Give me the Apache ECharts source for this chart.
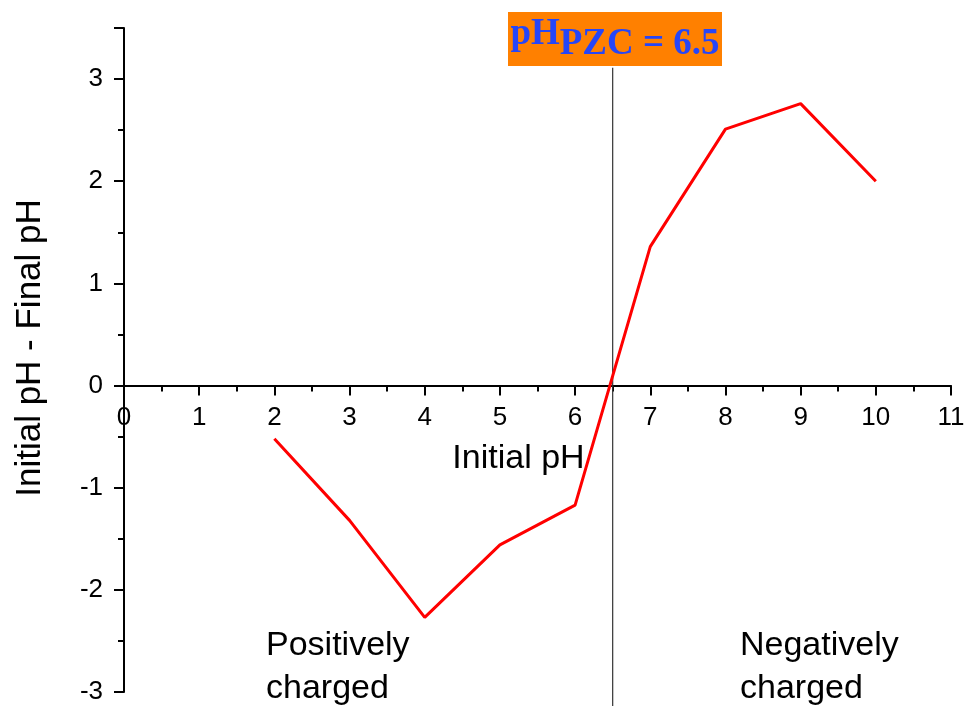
<!DOCTYPE html>
<html>
<head>
<meta charset="utf-8">
<script src="https://cdn.jsdelivr.net/npm/echarts@6/dist/echarts.min.js"></script>
<style>
  html, body { margin: 0; padding: 0; background: #fff; }
  #chart { width: 965px; height: 706px; }
</style>
</head>
<body>
<div id="chart"></div>
<script>
// Point of zero charge measurement: ΔpH (initial - final) against initial pH
const initialPH = [2, 3, 4, 5, 6, 7, 8, 9, 10];
const deltaPH = [-0.52, -1.32, -2.27, -1.56, -1.17, 1.36, 2.51, 2.76, 2.0];
const pzcValue = 6.5;
const pzcLineSpan = [3.11, -3.14];
const xTicks = [0, 11, 1];
const yTicks = [-3, 3.5, 1];

const GRID = { left: 124, right: 14, top: 28, bottom: 14 };
const chartHeight = 706;

const chart = echarts.init(document.getElementById('chart'));
const axisFont = { fontFamily: 'Liberation Sans, Arial, sans-serif', color: '#000' };

// The x axis sits on y = 0; move it up from the grid bottom by the pixel
// distance between y = min and y = 0 on the value scale.
const plotH = chartHeight - GRID.top - GRID.bottom;
const zeroOffset = -plotH * (0 - yTicks[0]) / (yTicks[1] - yTicks[0]);

chart.setOption({
  animation: false,
  backgroundColor: '#fff',
  grid: { ...GRID, containLabel: false, outerBoundsMode: 'none' },
  xAxis: {
    type: 'value',
    position: 'bottom',
    offset: zeroOffset,
    min: xTicks[0], max: xTicks[1], interval: xTicks[2],
    axisLine: { onZero: false, lineStyle: { color: '#000', width: 2 } },
    axisTick: { show: true, length: 10, lineStyle: { color: '#000', width: 2 } },
    minorTick: { show: true, splitNumber: 2, length: 6, lineStyle: { color: '#000', width: 2 } },
    axisLabel: { ...axisFont, fontSize: 26, margin: 19 },
    splitLine: { show: false },
    name: 'Initial pH',
    nameLocation: 'middle',
    nameGap: 56,
    nameTextStyle: { ...axisFont, fontSize: 34, padding: [0, 38, 0, 0] }
  },
  yAxis: {
    type: 'value',
    min: yTicks[0], max: yTicks[1], interval: yTicks[2],
    axisLine: { onZero: false, lineStyle: { color: '#000', width: 2 } },
    axisTick: { show: true, length: 10, lineStyle: { color: '#000', width: 2 } },
    minorTick: { show: true, splitNumber: 2, length: 6, lineStyle: { color: '#000', width: 2 } },
    axisLabel: { ...axisFont, fontSize: 26, margin: 21, showMaxLabel: false },
    splitLine: { show: false }
  },
  graphic: [
    {
      type: 'text',
      x: 30, y: 348,
      rotation: Math.PI / 2,
      style: {
        text: 'Initial pH - Final pH',
        font: '35px "Liberation Sans", Arial, sans-serif',
        fill: '#000',
        align: 'center',
        verticalAlign: 'middle'
      }
    },
    {
      type: 'rect',
      shape: { x: 508, y: 12, width: 214, height: 54 },
      style: { fill: '#ff8000' }
    },
    {
      type: 'text',
      x: 615, y: 39,
      style: {
        text: '{a|pH}{b|PZC = 6.5}',
        align: 'center',
        verticalAlign: 'middle',
        rich: {
          a: { fontFamily: 'Liberation Serif, Times New Roman, serif', fontWeight: 'bold', fontSize: 37, fill: '#2646f8', padding: [0, 0, 10, 0] },
          b: { fontFamily: 'Liberation Serif, Times New Roman, serif', fontWeight: 'bold', fontSize: 37, fill: '#2646f8', padding: [10, 0, 0, 0] }
        }
      }
    },
    {
      type: 'text',
      x: 266, y: 667,
      style: {
        text: 'Positively\ncharged',
        font: '34px "Liberation Sans", Arial, sans-serif',
        lineHeight: 43,
        fill: '#000',
        align: 'left',
        verticalAlign: 'middle'
      }
    },
    {
      type: 'text',
      x: 740, y: 667,
      style: {
        text: 'Negatively\ncharged',
        font: '34px "Liberation Sans", Arial, sans-serif',
        lineHeight: 43,
        fill: '#000',
        align: 'left',
        verticalAlign: 'middle'
      }
    }
  ],
  series: [
    {
      name: 'pHpzc',
      type: 'line',
      data: pzcLineSpan.map(v => [pzcValue, v]),
      symbol: 'none',
      clip: false,
      lineStyle: { color: '#333', width: 1.2 },
      silent: true,
      z: 1
    },
    {
      name: 'ΔpH',
      type: 'line',
      data: initialPH.map((x, i) => [x, deltaPH[i]]),
      symbol: 'none',
      lineStyle: { color: '#ff0000', width: 3 },
      z: 3
    }
  ]
});
</script>
</body>
</html>
